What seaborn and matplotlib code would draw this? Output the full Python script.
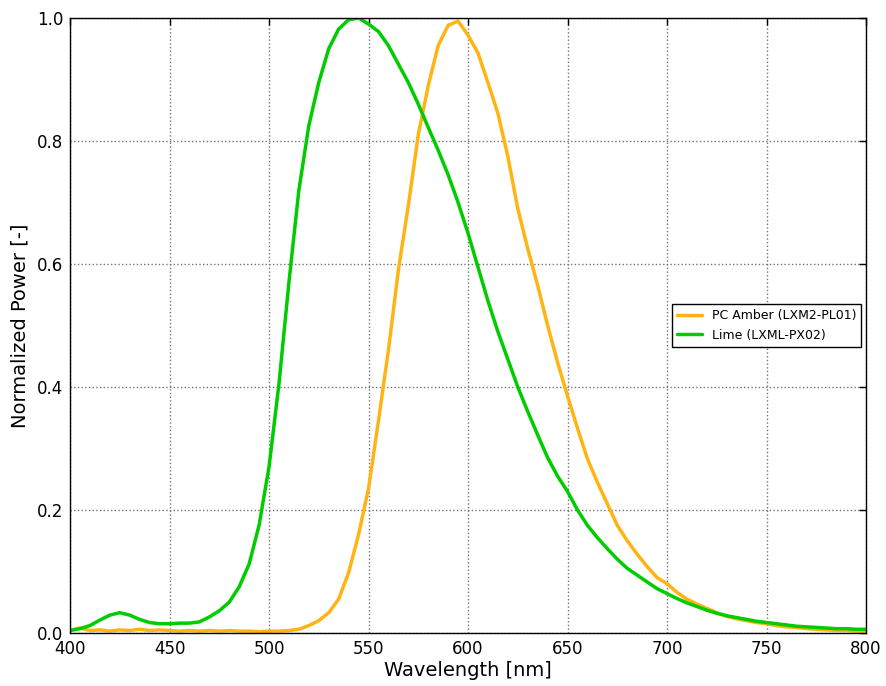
import matplotlib
matplotlib.use("Agg")
import matplotlib.pyplot as plt
import seaborn as sns
import pandas as pd
import numpy as np

# Spectral data (5 nm steps)
wavelength = list(range(400, 805, 5))

amber = [0.004, 0.008, 0.004, 0.005, 0.003, 0.005, 0.004, 0.006, 0.004, 0.005,
         0.004, 0.003, 0.004, 0.003, 0.004, 0.003, 0.004, 0.003, 0.003, 0.002,
         0.003, 0.003, 0.004, 0.006, 0.012, 0.020, 0.033, 0.055, 0.098, 0.160,
         0.235, 0.345, 0.460, 0.590, 0.695, 0.810, 0.890, 0.955, 0.988, 0.995,
         0.972, 0.943, 0.895, 0.845, 0.775, 0.690, 0.625, 0.565, 0.500, 0.440,
         0.385, 0.333, 0.283, 0.245, 0.210, 0.175, 0.150, 0.128, 0.108, 0.090,
         0.080, 0.066, 0.055, 0.047, 0.040, 0.033, 0.027, 0.023, 0.020, 0.017,
         0.015, 0.012, 0.010, 0.009, 0.007, 0.006, 0.005, 0.004, 0.004, 0.003,
         0.003]

lime = [0.004, 0.007, 0.012, 0.021, 0.029, 0.033, 0.029, 0.022, 0.017, 0.015,
        0.015, 0.016, 0.016, 0.018, 0.026, 0.036, 0.050, 0.075, 0.112, 0.175,
        0.270, 0.405, 0.570, 0.720, 0.825, 0.895, 0.950, 0.982, 0.997, 1.000,
        0.990, 0.978, 0.955, 0.925, 0.895, 0.860, 0.822, 0.785, 0.745, 0.700,
        0.650, 0.595, 0.540, 0.490, 0.445, 0.400, 0.360, 0.322, 0.285, 0.255,
        0.230, 0.200, 0.175, 0.155, 0.137, 0.120, 0.105, 0.094, 0.083, 0.072,
        0.064, 0.056, 0.049, 0.043, 0.037, 0.032, 0.028, 0.025, 0.022, 0.019,
        0.017, 0.015, 0.013, 0.011, 0.010, 0.009, 0.008, 0.007, 0.007, 0.006,
        0.006]

labels = ["PC Amber (LXM2-PL01)", "Lime (LXML-PX02)"]
colors = ["#FFB414", "#00CC00"]

df = pd.DataFrame({
    "Wavelength": wavelength * 2,
    "Power": amber + lime,
    "LED": [labels[0]] * len(wavelength) + [labels[1]] * len(wavelength),
})

sns.set_theme(style="white")
plt.rcParams["font.family"] = ["DejaVu Sans"]
plt.rcParams["text.color"] = "black"
plt.rcParams["axes.labelcolor"] = "black"

fig = plt.figure(figsize=(8.86, 6.86), dpi=100)
ax = fig.add_axes([0.079, 0.0773, 0.8985, 0.8965])

sns.lineplot(data=df, x="Wavelength", y="Power", hue="LED", palette=colors,
             linewidth=2.5, ax=ax)

ax.set_xlim(400, 800)
ax.set_ylim(0, 1.0)
ax.set_xticks(np.arange(400, 801, 50))
ax.set_yticks(np.arange(0, 1.01, 0.2))
ax.set_xlabel("Wavelength [nm]", fontsize=14, labelpad=2)
ax.set_ylabel("Normalized Power [-]", fontsize=14, labelpad=5)
ax.tick_params(direction="in", length=5, width=1, top=True, right=True,
               labelsize=12, colors="black", pad=5)
ax.grid(True, linestyle=":", color="0.45", linewidth=1)
for s in ax.spines.values():
    s.set_color("black")
    s.set_linewidth(1)

leg = ax.legend(loc="center right", fontsize=9, fancybox=False,
                edgecolor="black", framealpha=1, borderaxespad=0.4,
                handlelength=2.0)
leg.get_frame().set_linewidth(1)

fig.savefig("out.png", dpi=100)
